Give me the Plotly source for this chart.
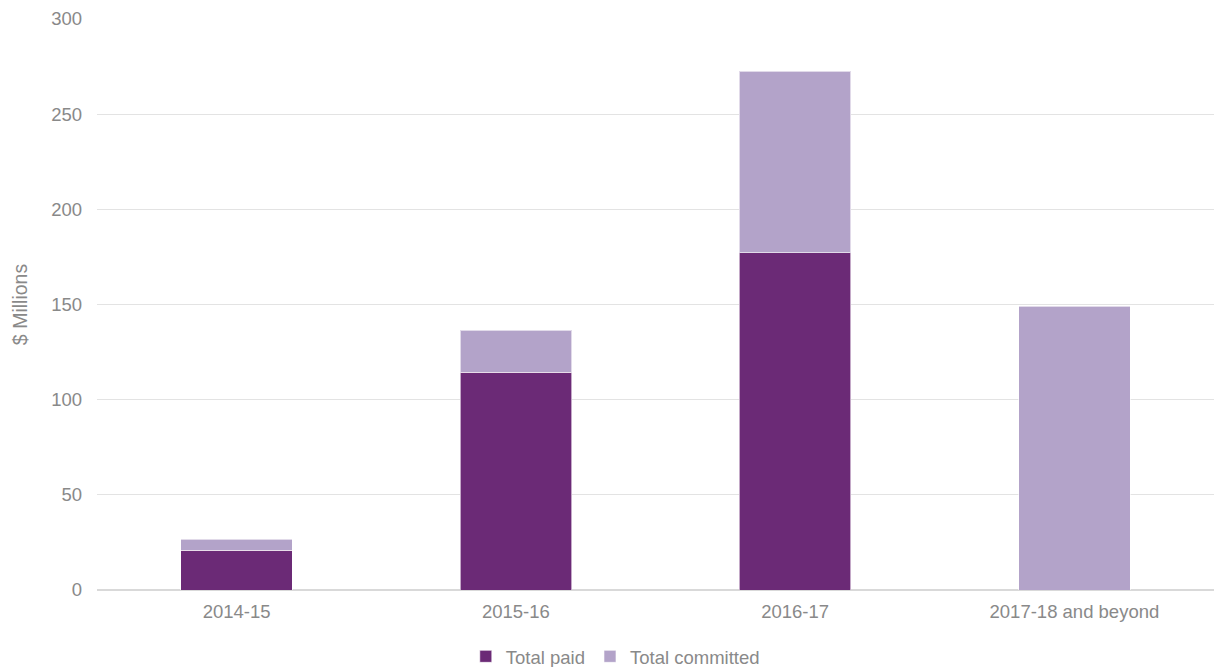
import plotly.graph_objects as go

categories = ["2014-15", "2015-16", "2016-17", "2017-18 and beyond"]
total_paid = [20.9, 114.4, 177.1, 0]
total_committed = [5.7, 22.1, 95.4, 149.0]
y_ticks = [0, 50, 100, 150, 200, 250, 300]

PAID = "#6b2a76"
COMMITTED = "#b3a3c9"
GREY = "#898989"
FONT = "Liberation Sans, Arial, sans-serif"
FS = 18.5

fig = go.Figure()
fig.add_trace(go.Bar(x=categories, y=total_paid, name="Total paid",
                     marker=dict(color=PAID, line=dict(color="rgba(255,255,255,0.6)", width=1))))
fig.add_trace(go.Bar(x=categories, y=total_committed, name="Total committed",
                     marker=dict(color=COMMITTED, line=dict(color="rgba(255,255,255,0.6)", width=1))))

fig.update_layout(
    barmode="stack",
    bargap=0.6,
    width=1220, height=667,
    margin=dict(l=97, r=6, t=19, b=77, autoexpand=False),
    paper_bgcolor="white", plot_bgcolor="white",
    font=dict(family=FONT, size=FS, color=GREY),
    legend=dict(orientation="h",
                x=0.464, xanchor="center", y=-0.117, yanchor="middle",
                font=dict(size=FS, color=GREY), traceorder="normal",
                itemwidth=30),
    showlegend=True,
)
fig.update_yaxes(range=[0, 300], tickvals=y_ticks, showgrid=True, gridcolor="#e3e3e3",
                 gridwidth=1, zeroline=True, zerolinecolor="#d9d9d9", zerolinewidth=2,
                 showline=False, ticks="", tickfont=dict(size=FS, color=GREY),
                 ticklabelstandoff=14, automargin=False,
                 title=dict(text="$ Millions", font=dict(size=19.5, color=GREY), standoff=18))
fig.update_xaxes(showgrid=False, showline=False, ticks="", tickfont=dict(size=FS, color=GREY),
                 ticklabelstandoff=8, tickangle=0, automargin=False)

fig.write_html("out.html")
